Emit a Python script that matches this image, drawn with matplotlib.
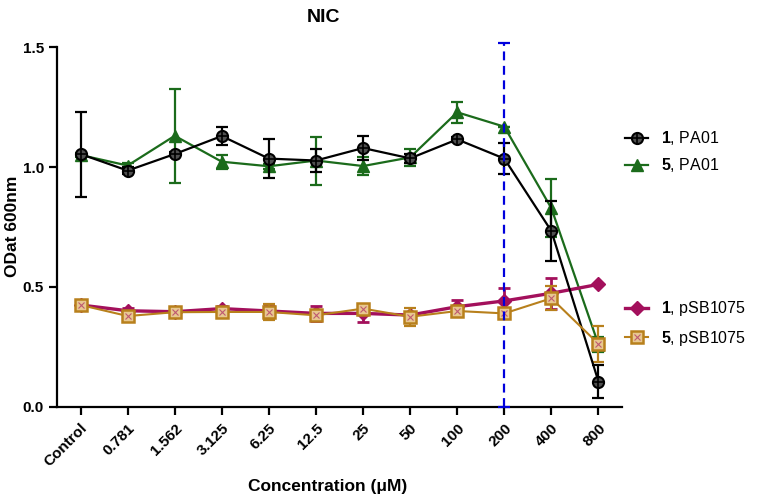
import numpy as np
import matplotlib
matplotlib.use('Agg')
import matplotlib.pyplot as plt

plt.rcParams['font.family'] = ['Liberation Sans', 'DejaVu Sans']
plt.rcParams['mathtext.fontset'] = 'custom'
plt.rcParams['mathtext.bf'] = 'Liberation Sans:bold'
plt.rcParams['mathtext.rm'] = 'Liberation Sans'

labels = ['Control', '0.781', '1.562', '3.125', '6.25', '12.5', '25', '50',
          '100', '200', '400', '800']

# 1, PA01
pa01_1 = [1.054, 0.985, 1.054, 1.129, 1.035, 1.027, 1.079, 1.036, 1.115, 1.035, 0.733, 0.106]
pa01_1_err = [0.177, 0.015, 0.01, 0.037, 0.08, 0.046, 0.049, 0.02, 0.01, 0.066, 0.124, 0.068]
# 5, PA01
pa01_5 = [1.05, 1.006, 1.13, 1.022, 1.003, 1.027, 1.004, 1.04, 1.228, 1.168, 0.828, 0.26]
pa01_5_err = [0.01, 0.01, 0.195, 0.03, 0.01, 0.1, 0.038, 0.035, 0.043, 0.0, 0.12, 0.03]
# 1, pSB1075
psb_1 = [0.425, 0.401, 0.397, 0.41, 0.40, 0.39, 0.39, 0.383, 0.418, 0.442, 0.474, 0.511]
psb_1_err = [0.01, 0.01, 0.01, 0.01, 0.02, 0.03, 0.035, 0.01, 0.028, 0.055, 0.065, 0.0]
# 5, pSB1075
psb_5 = [0.425, 0.379, 0.395, 0.396, 0.396, 0.382, 0.41, 0.376, 0.40, 0.39, 0.453, 0.263]
psb_5_err = [0.01, 0.015, 0.015, 0.015, 0.035, 0.02, 0.015, 0.037, 0.02, 0.015, 0.05, 0.075]

# blue dashed marker line at 200 uM
mark_label = '200'
mark_top = 1.515

black = '#000000'
green = '#1b6b1b'
magenta = '#a3105c'
gold = '#b8801c'
blue = '#0000dd'

x = np.arange(len(labels))

fig = plt.figure(figsize=(7.57, 5.0), dpi=100)
ax = fig.add_axes([0.0753, 0.186, 0.7464, 0.72])

# 1, PA01
ax.errorbar(x, pa01_1, yerr=pa01_1_err, color=black, lw=1.6, capsize=4.5,
            elinewidth=1.6, capthick=1.6, zorder=4)
ax.plot(x, pa01_1, 'o', ms=8, mfc='#505050', mec=black, mew=1.5, zorder=5)
ax.plot(x, pa01_1, '+', ms=7, mec=black, mew=1.2, zorder=6)
h1 = (ax.plot([], [], '-o', color=black, lw=1.6, ms=8, mfc='#505050', mew=1.5)[0],
      ax.plot([], [], '+', ms=7, mec=black, mew=1.2)[0])

# 5, PA01
ax.errorbar(x, pa01_5, yerr=pa01_5_err, color=green, lw=1.6, capsize=4.5,
            elinewidth=1.6, capthick=1.6, marker='^', ms=8, zorder=3)
h2 = ax.plot([], [], '-^', color=green, lw=1.6, ms=8)[0]

# 1, pSB1075
ax.errorbar(x, psb_1, yerr=psb_1_err, color=magenta, lw=2.4, capsize=4.5,
            elinewidth=2.0, capthick=2.0, marker='D', ms=7, zorder=3)
h3 = ax.plot([], [], '-D', color=magenta, lw=2.4, ms=7)[0]

# 5, pSB1075
ax.errorbar(x, psb_5, yerr=psb_5_err, color=gold, lw=1.5, capsize=4.5,
            elinewidth=1.6, capthick=1.6, zorder=4)
ax.plot(x, psb_5, 's', ms=9, mfc='#e8c890', mec=gold, mew=1.8, zorder=5)
ax.plot(x, psb_5, 'x', ms=5, mec=magenta, mew=0.8, alpha=0.6, zorder=6)
h4 = (ax.plot([], [], '-s', color=gold, lw=1.5, ms=9, mfc='#e8c890', mew=1.8)[0],
      ax.plot([], [], 'x', ms=5, mec=magenta, mew=0.8, alpha=0.6)[0])

# vertical dashed line
xm = labels.index(mark_label)
ax.plot([xm, xm], [0, mark_top], '--', color=blue, lw=1.6, dashes=(4, 2.5),
        clip_on=False, zorder=8)
ax.plot([xm, xm], [0, mark_top], '_', color=blue, ms=9, mew=1.6,
        clip_on=False, zorder=8)

ax.set_xlim(-0.5, 11.5)
ax.set_ylim(0, 1.5)
ax.set_yticks([0, 0.5, 1.0, 1.5])
ax.set_yticklabels(['0.0', '0.5', '1.0', '1.5'], fontsize=11, fontweight='bold')
ax.set_xticks(x)
ax.set_xticklabels(labels, rotation=45, ha='right', rotation_mode='anchor',
                   fontsize=11, fontweight='bold')
for s in ['top', 'right']:
    ax.spines[s].set_visible(False)
for s in ['left', 'bottom']:
    ax.spines[s].set_linewidth(1.6)
ax.tick_params(axis='both', width=1.6, length=6, direction='out')
ax.tick_params(axis='x', pad=4)

fig.text(0.428, 0.966, 'NIC', ha='center', va='center', fontsize=14, fontweight='bold')
fig.text(0.433, 0.026, 'Concentration (\u03bcM)', ha='center', va='center',
         fontsize=12.5, fontweight='bold')
fig.text(0.016, 0.548, 'ODat 600nm', ha='center', va='center', rotation=90,
         fontsize=12.5, fontweight='bold')

leg1 = fig.legend([h1, h2], [r'$\mathbf{1}$, PA01', r'$\mathbf{5}$, PA01'],
                  loc='upper left', bbox_to_anchor=(0.807, 0.77), frameon=False,
                  fontsize=11.5, handlelength=1.45, handletextpad=0.8, labelspacing=0.55)
leg2 = fig.legend([h3, h4], [r'$\mathbf{1}$, pSB1075', r'$\mathbf{5}$, pSB1075'],
                  loc='upper left', bbox_to_anchor=(0.807, 0.43), frameon=False,
                  fontsize=11.5, handlelength=1.45, handletextpad=0.8, labelspacing=0.65)

fig.savefig('out.png', dpi=100)
